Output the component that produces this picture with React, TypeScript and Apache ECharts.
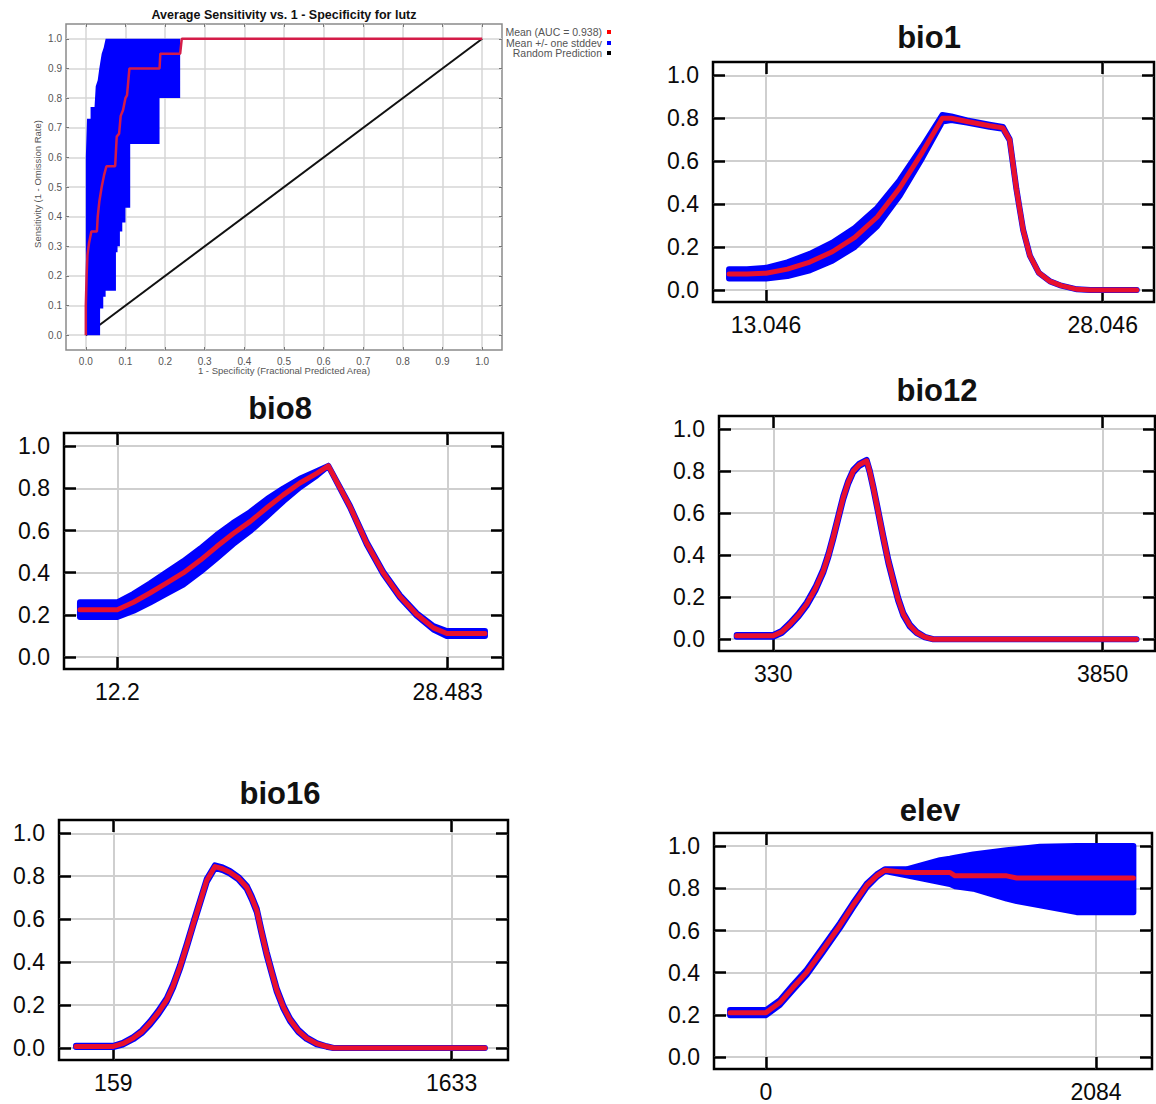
import React, { useEffect, useRef } from 'react';
import * as echarts from 'echarts';

// ---------------- ROC curve data ----------------
const rocTickLabels = ['0.0', '0.1', '0.2', '0.3', '0.4', '0.5', '0.6', '0.7', '0.8', '0.9', '1.0'];
const rocTitle = 'Average Sensitivity vs. 1 - Specificity for lutz';
const rocYName = 'Sensitivity (1 - Omission Rate)';
const rocXName = '1 - Specificity (Fractional Predicted Area)';
const legendLabels = ['Mean (AUC = 0.938)', 'Mean +/- one stddev', 'Random Prediction'];
const legendColors = ['#ff0000', '#0000ff', '#000000'];

const rocMeanX = [0, 0, 0.002, 0.004, 0.008, 0.014, 0.028, 0.03, 0.034, 0.04, 0.046, 0.052, 0.074, 0.076, 0.078, 0.084, 0.088, 0.094, 0.1, 0.104, 0.11, 0.186, 0.188, 0.238, 0.242, 1.0];
const rocMeanY = [0, 0.1, 0.2, 0.27, 0.31, 0.35, 0.35, 0.4, 0.45, 0.5, 0.54, 0.57, 0.57, 0.62, 0.67, 0.68, 0.74, 0.76, 0.8, 0.81, 0.9, 0.9, 0.95, 0.95, 1.0, 1.0];
const rocUpperX = [0, 0, 0.003, 0.012, 0.012, 0.022, 0.025, 0.03, 0.034, 0.04, 0.045, 0.05, 0.24];
const rocUpperY = [0, 0.6, 0.73, 0.73, 0.77, 0.77, 0.84, 0.86, 0.9, 0.95, 0.97, 1.0, 1.0];
const rocLowerX = [0, 0.036, 0.036, 0.044, 0.044, 0.05, 0.05, 0.076, 0.076, 0.08, 0.08, 0.086, 0.086, 0.092, 0.092, 0.1, 0.1, 0.112, 0.112, 0.186, 0.186, 0.238, 0.238];
const rocLowerY = [0, 0, 0.09, 0.09, 0.13, 0.13, 0.15, 0.15, 0.28, 0.28, 0.3, 0.3, 0.35, 0.35, 0.38, 0.38, 0.43, 0.43, 0.645, 0.645, 0.8, 0.8, 1.0];
const randomX = [0, 1];
const randomY = [0, 1];

// ---------------- Response curves ----------------
const respYTickLabels = ['0.0', '0.2', '0.4', '0.6', '0.8', '1.0'];

const bio1Ticks = ['13.046', '28.046'];
const bio1X = [11.4, 12.2, 13.05, 14.0, 15.0, 16.0, 17.0, 18.0, 19.0, 20.0, 20.9, 21.3, 22.0, 23.0, 23.6, 23.9, 24.2, 24.5, 24.8, 25.2, 25.7, 26.2, 26.9, 27.5, 29.56];
const bio1Mean = [0.075, 0.075, 0.078, 0.097, 0.13, 0.178, 0.245, 0.34, 0.475, 0.64, 0.8, 0.8, 0.785, 0.765, 0.755, 0.7, 0.47, 0.28, 0.16, 0.08, 0.04, 0.02, 0.003, 0, 0];
const bio1Sd = [0.022, 0.022, 0.025, 0.032, 0.038, 0.042, 0.044, 0.042, 0.036, 0.026, 0.015, 0.008, 0.005, 0.005, 0.004, 0.002, 0, 0, 0, 0, 0, 0, 0, 0, 0];

const bio8Ticks = ['12.2', '28.483'];
const bio8X = [10.36, 12.2, 13.0, 13.81, 14.6, 15.45, 16.3, 17.1, 17.9, 18.74, 19.6, 20.38, 21.2, 22.03, 22.6, 23.67, 24.49, 25.31, 26.13, 26.96, 27.78, 28.44, 30.32];
const bio8Mean = [0.225, 0.225, 0.26, 0.304, 0.35, 0.399, 0.46, 0.524, 0.585, 0.642, 0.71, 0.769, 0.825, 0.871, 0.906, 0.713, 0.54, 0.399, 0.288, 0.202, 0.139, 0.112, 0.112];
const bio8Sd = [0.035, 0.035, 0.04, 0.045, 0.05, 0.055, 0.055, 0.055, 0.05, 0.045, 0.04, 0.03, 0.02, 0.01, 0, 0.003, 0.005, 0.005, 0.005, 0.006, 0.008, 0.012, 0.012];

const bio12Ticks = ['330', '3850'];
const bio12X = [-61, 330, 420, 508, 600, 687, 780, 865, 920, 971, 1025, 1078, 1130, 1185, 1250, 1328, 1360, 1399, 1450, 1506, 1560, 1613, 1665, 1720, 1790, 1863, 1950, 2040, 4213];
const bio12Mean = [0.016, 0.016, 0.035, 0.071, 0.115, 0.167, 0.24, 0.325, 0.4, 0.484, 0.58, 0.674, 0.745, 0.8, 0.83, 0.849, 0.8, 0.722, 0.61, 0.484, 0.37, 0.278, 0.19, 0.119, 0.065, 0.032, 0.01, 0, 0];
const bio12Sd = [0.004, 0.004, 0.005, 0.006, 0.007, 0.008, 0.008, 0.008, 0.008, 0.008, 0.008, 0.008, 0.007, 0.006, 0.005, 0.004, 0.005, 0.006, 0.007, 0.008, 0.008, 0.008, 0.007, 0.006, 0.005, 0.003, 0.001, 0, 0];

const bio16Ticks = ['159', '1633'];
const bio16X = [-3.5, 159, 200, 246, 283, 319, 355, 392, 420, 450, 480, 508, 537, 566, 602, 635, 667, 705, 740, 762, 784, 805, 827, 850, 871, 900, 929, 965, 1001, 1045, 1088, 1118, 1778];
const bio16Mean = [0.007, 0.007, 0.02, 0.046, 0.075, 0.116, 0.165, 0.224, 0.29, 0.378, 0.48, 0.58, 0.68, 0.78, 0.845, 0.835, 0.819, 0.79, 0.749, 0.7, 0.641, 0.54, 0.44, 0.35, 0.27, 0.19, 0.131, 0.08, 0.046, 0.02, 0.007, 0, 0];
const bio16Sd = [0.003, 0.003, 0.004, 0.005, 0.006, 0.007, 0.008, 0.008, 0.008, 0.008, 0.008, 0.008, 0.008, 0.007, 0.006, 0.006, 0.006, 0.006, 0.007, 0.008, 0.008, 0.008, 0.008, 0.008, 0.008, 0.007, 0.006, 0.005, 0.004, 0.003, 0.001, 0, 0];

const elevTicks = ['0', '2084'];
const elevX = [-227, 0, 88, 170, 257, 360, 467, 550, 636, 700, 751, 888, 1099, 1162, 1194, 1309, 1520, 1583, 1730, 1962, 2320];
const elevMean = [0.211, 0.211, 0.259, 0.33, 0.402, 0.51, 0.624, 0.72, 0.814, 0.86, 0.886, 0.875, 0.875, 0.875, 0.859, 0.859, 0.859, 0.849, 0.849, 0.849, 0.849];
const elevHi = [0.223, 0.223, 0.27, 0.342, 0.414, 0.522, 0.635, 0.73, 0.822, 0.866, 0.89, 0.89, 0.933, 0.94, 0.945, 0.96, 0.98, 0.985, 0.997, 1.0, 1.0];
const elevLo = [0.199, 0.199, 0.248, 0.318, 0.39, 0.498, 0.613, 0.71, 0.806, 0.854, 0.882, 0.862, 0.83, 0.82, 0.81, 0.798, 0.751, 0.74, 0.719, 0.687, 0.687];

// ---------------- styling ----------------
const FONT = '"Liberation Sans", Arial, sans-serif';
const RED = '#e8102e';
const BLUE = '#0000ff';

const nearestLabel = (labels: string[]) => (v: number) => {
  let best = labels[0];
  let d = Infinity;
  for (const s of labels) {
    const dd = Math.abs(Number(s) - v);
    if (dd < d) { d = dd; best = s; }
  }
  return best;
};

const lowerOf = (m: number[], sd: number[]) => m.map((v, i) => v - sd[i]);
const upperOf = (m: number[], sd: number[]) => m.map((v, i) => v + sd[i]);

type Panel = {
  title: string; xs: number[]; mean: number[]; lo: number[]; hi: number[]; ticks: string[];
  grid: { left: number; top: number; width: number; height: number };
  xMin: number; xMax: number; tx: number; ty: number;
};

const panels: Panel[] = [
  { title: 'bio1', xs: bio1X, mean: bio1Mean, lo: lowerOf(bio1Mean, bio1Sd), hi: upperOf(bio1Mean, bio1Sd), ticks: bio1Ticks,
    grid: { left: 713, top: 62, width: 441, height: 240 }, xMin: 10.685, xMax: 30.329, tx: 929, ty: 37 },
  { title: 'bio8', xs: bio8X, mean: bio8Mean, lo: lowerOf(bio8Mean, bio8Sd), hi: upperOf(bio8Mean, bio8Sd), ticks: bio8Ticks,
    grid: { left: 64, top: 433, width: 439, height: 236 }, xMin: 9.573, xMax: 31.209, tx: 280, ty: 408 },
  { title: 'bio12', xs: bio12X, mean: bio12Mean, lo: lowerOf(bio12Mean, bio12Sd), hi: upperOf(bio12Mean, bio12Sd), ticks: bio12Ticks,
    grid: { left: 719, top: 416, width: 436, height: 235 }, xMin: -250, xMax: 4410, tx: 937, ty: 390 },
  { title: 'bio16', xs: bio16X, mean: bio16Mean, lo: lowerOf(bio16Mean, bio16Sd), hi: upperOf(bio16Mean, bio16Sd), ticks: bio16Ticks,
    grid: { left: 59, top: 820, width: 449, height: 240 }, xMin: -77.6, xMax: 1878.7, tx: 280, ty: 793 },
  { title: 'elev', xs: elevX, mean: elevMean, lo: elevLo, hi: elevHi, ticks: elevTicks,
    grid: { left: 714, top: 833, width: 438, height: 236 }, xMin: -328.4, xMax: 2437.6, tx: 930, ty: 810 },
];

const RESP_Y_MIN = -0.056;
const RESP_Y_MAX = 1.062;

function polygonSeries(points: number[][], g: number, style: any, z: number) {
  return {
    type: 'custom',
    coordinateSystem: 'cartesian2d',
    xAxisIndex: 2 * g,
    yAxisIndex: 2 * g,
    data: points,
    encode: { x: 0, y: 1 },
    silent: true,
    z,
    renderItem: (params: any, api: any) => {
      if (params.dataIndex !== 0) return null;
      const pts = points.map((p) => api.coord(p));
      return { type: 'polygon', shape: { points: pts }, style };
    },
  };
}

const noLine = { show: false, onZero: false };

function buildOption() {
  const grids: any[] = [];
  const xAxes: any[] = [];
  const yAxes: any[] = [];
  const series: any[] = [];
  const graphic: any[] = [];

  // ---- ROC panel (grid 0) ----
  const rocVals = rocTickLabels.map(Number);
  grids.push({ left: 66, top: 24, width: 436, height: 326, show: true, borderColor: '#8a8a8a', borderWidth: 1.5, outerBoundsMode: 'none', containLabel: false });
  const rocTick = { show: true, inside: true, length: 3, customValues: rocVals, lineStyle: { color: '#777', width: 1 } };
  const rocLabel = { show: true, customValues: rocVals, formatter: nearestLabel(rocTickLabels), fontSize: 10, color: '#555', fontFamily: FONT };
  const rocSplit = { show: true, lineStyle: { color: '#d6d6d6', width: 1.5 } };
  xAxes.push({ type: 'value', gridIndex: 0, min: -0.05, max: 1.05, position: 'bottom', axisLine: noLine, axisTick: rocTick, axisLabel: { ...rocLabel, margin: 6 }, splitLine: rocSplit });
  xAxes.push({ type: 'value', gridIndex: 0, min: -0.05, max: 1.05, position: 'top', axisLine: noLine, axisTick: rocTick, axisLabel: { show: false }, splitLine: { show: false } });
  yAxes.push({ type: 'value', gridIndex: 0, min: -0.05, max: 1.05, position: 'left', axisLine: noLine, axisTick: rocTick, axisLabel: { ...rocLabel, margin: 4 }, splitLine: rocSplit });
  yAxes.push({ type: 'value', gridIndex: 0, min: -0.05, max: 1.05, position: 'right', axisLine: noLine, axisTick: rocTick, axisLabel: { show: false }, splitLine: { show: false } });

  series.push({
    type: 'line', xAxisIndex: 0, yAxisIndex: 0, data: randomX.map((x, i) => [x, randomY[i]]),
    showSymbol: false, silent: true, z: 2, lineStyle: { color: '#111', width: 2 },
  });
  const rocPoly = [
    ...rocUpperX.map((x, i) => [x, rocUpperY[i]]),
    ...rocLowerX.map((x, i) => [x, rocLowerY[i]]).reverse(),
  ];
  series.push(polygonSeries(rocPoly, 0, { fill: BLUE, stroke: 'none' }, 3));
  series.push({
    type: 'line', xAxisIndex: 0, yAxisIndex: 0, data: rocMeanX.map((x, i) => [x, rocMeanY[i]]),
    showSymbol: false, silent: true, z: 4, lineStyle: { color: '#d41c48', width: 2.5 },
  });

  graphic.push({ type: 'text', x: 284, y: 15, style: { text: rocTitle, fontSize: 12.5, fontWeight: 'bold', fontFamily: FONT, fill: '#111', align: 'center', verticalAlign: 'middle' } });
  graphic.push({ type: 'text', x: 37, y: 184, rotation: Math.PI / 2, style: { text: rocYName, fontSize: 9.5, fontFamily: FONT, fill: '#555', align: 'center', verticalAlign: 'middle' } });
  graphic.push({ type: 'text', x: 284, y: 370, style: { text: rocXName, fontSize: 9.5, fontFamily: FONT, fill: '#555', align: 'center', verticalAlign: 'middle' } });
  const legendYs = [32, 43, 53];
  legendLabels.forEach((t, i) => {
    graphic.push({ type: 'text', x: 602, y: legendYs[i], style: { text: t, fontSize: 10.5, fontFamily: FONT, fill: '#555', align: 'right', verticalAlign: 'middle' } });
    graphic.push({ type: 'rect', shape: { x: 607, y: legendYs[i] - 2, width: 4, height: 4 }, style: { fill: legendColors[i] } });
  });

  // ---- response panels ----
  const yVals = respYTickLabels.map(Number);
  panels.forEach((p, k) => {
    const g = k + 1;
    const xVals = p.ticks.map(Number);
    grids.push({ ...p.grid, show: true, borderColor: '#000', borderWidth: 2.5, outerBoundsMode: 'none', containLabel: false });
    const tickStyle = { color: '#000', width: 2.5 };
    const split = { show: true, lineStyle: { color: '#cfcfcf', width: 2 } };
    const labelBase = { show: true, fontSize: 23, color: '#0a0a0a', fontFamily: FONT };
    xAxes.push({
      type: 'value', gridIndex: g, min: p.xMin, max: p.xMax, position: 'bottom', axisLine: noLine,
      axisTick: { show: true, inside: true, length: 12, customValues: xVals, lineStyle: tickStyle },
      axisLabel: { ...labelBase, customValues: xVals, formatter: nearestLabel(p.ticks), margin: 11 },
      splitLine: split,
    });
    xAxes.push({
      type: 'value', gridIndex: g, min: p.xMin, max: p.xMax, position: 'top', axisLine: noLine,
      axisTick: { show: true, inside: true, length: 12, customValues: xVals, lineStyle: tickStyle },
      axisLabel: { show: false }, splitLine: { show: false },
    });
    yAxes.push({
      type: 'value', gridIndex: g, min: RESP_Y_MIN, max: RESP_Y_MAX, position: 'left', axisLine: noLine,
      axisTick: { show: true, inside: true, length: 12, customValues: yVals, lineStyle: tickStyle },
      axisLabel: { ...labelBase, customValues: yVals, formatter: nearestLabel(respYTickLabels), margin: 14 },
      splitLine: split,
    });
    yAxes.push({
      type: 'value', gridIndex: g, min: RESP_Y_MIN, max: RESP_Y_MAX, position: 'right', axisLine: noLine,
      axisTick: { show: true, inside: true, length: 12, customValues: yVals, lineStyle: tickStyle },
      axisLabel: { show: false }, splitLine: { show: false },
    });

    const poly = [
      ...p.xs.map((x, i) => [x, p.hi[i]]),
      ...p.xs.map((x, i) => [x, p.lo[i]]).reverse(),
    ];
    series.push(polygonSeries(poly, g, { fill: BLUE, stroke: BLUE, lineWidth: 6, lineJoin: 'round' }, 3));
    series.push({
      type: 'line', xAxisIndex: 2 * g, yAxisIndex: 2 * g, data: p.xs.map((x, i) => [x, p.mean[i]]),
      showSymbol: false, silent: true, z: 4, lineStyle: { color: RED, width: 5, cap: 'round', join: 'round' },
    });
    graphic.push({ type: 'text', x: p.tx, y: p.ty, style: { text: p.title, fontSize: 31, fontWeight: 'bold', fontFamily: FONT, fill: '#111', align: 'center', verticalAlign: 'middle' } });
  });

  return {
    animation: false,
    backgroundColor: '#ffffff',
    grid: grids,
    xAxis: xAxes,
    yAxis: yAxes,
    series,
    graphic,
  };
}

export default function App() {
  const ref = useRef<HTMLDivElement>(null);
  useEffect(() => {
    if (!ref.current) return;
    const chart = echarts.init(ref.current, null, { renderer: 'svg' });
    chart.setOption(buildOption() as any);
    return () => chart.dispose();
  }, []);
  return (
    <div
      ref={ref}
      style={{ position: 'absolute', left: 0, top: 0, width: 1156, height: 1104, background: '#fff' }}
    />
  );
}
